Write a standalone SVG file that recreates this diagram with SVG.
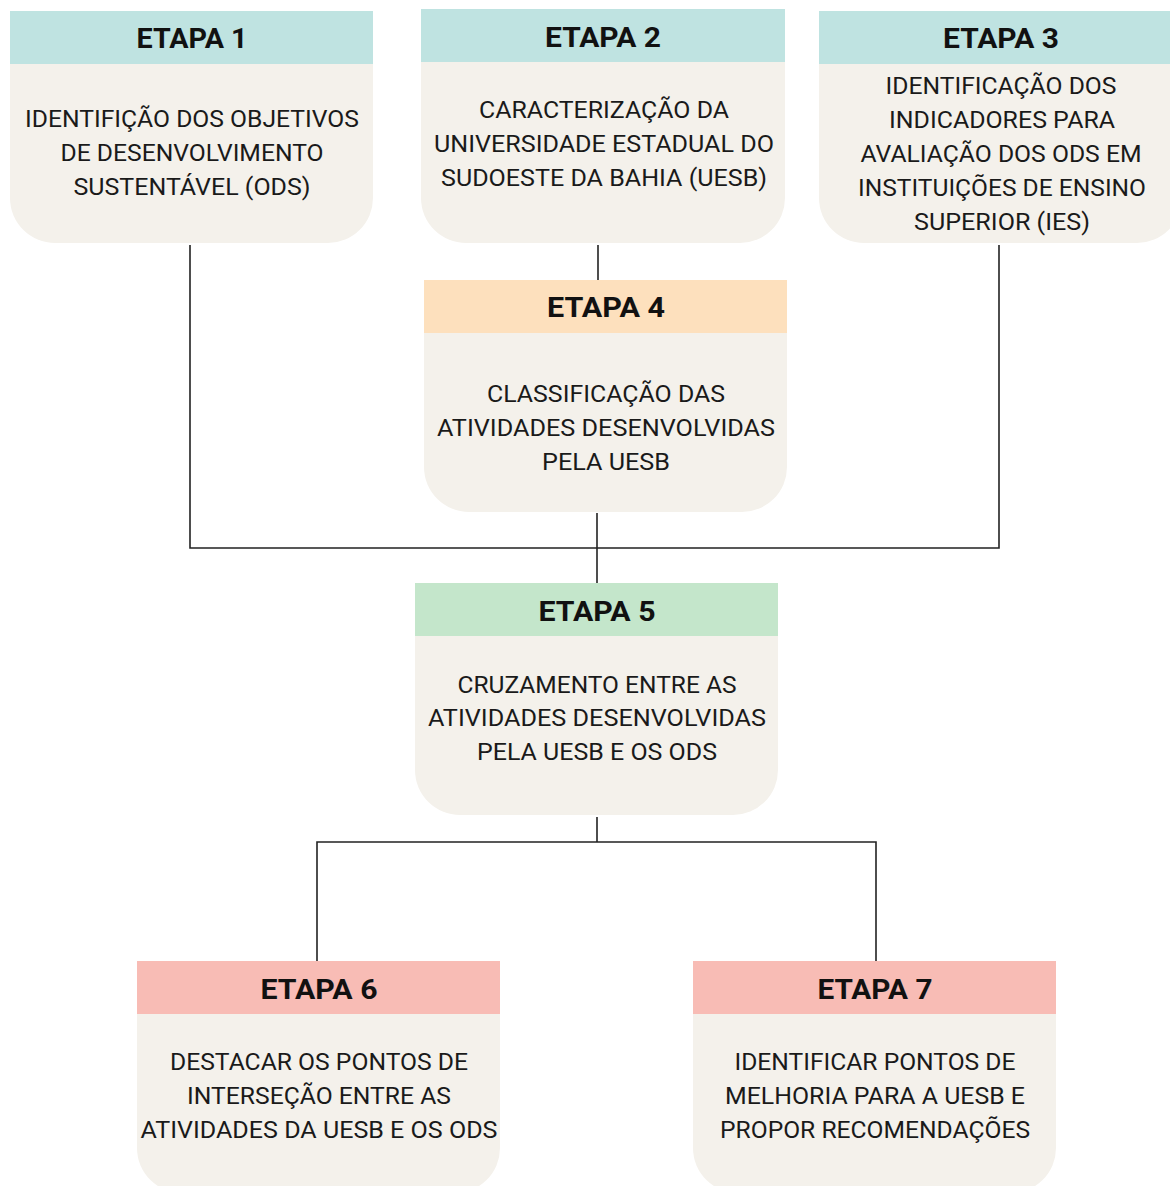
<svg xmlns="http://www.w3.org/2000/svg" width="1170" height="1186" viewBox="0 0 1170 1186">
<defs>
<style>
.body{fill:#f4f1eb}
.h-teal{fill:#bfe3e1}
.h-orange{fill:#fde0bd}
.h-green{fill:#c4e6cb}
.h-pink{fill:#f8bcb5}
.ht{font-family:Roboto,"Liberation Sans",sans-serif;font-weight:bold;font-size:28px;fill:#111;text-anchor:middle}
.bt{font-family:Roboto,"Liberation Sans",sans-serif;font-size:23px;fill:#1a1a1a;text-anchor:middle}
.conn{stroke:#222;stroke-width:1.6;fill:none}
</style>
</defs>
<rect width="1170" height="1186" fill="#ffffff"/>
<g id="connectors">
<path class="conn" d="M190 245 V548 H999 V245"/>
<path class="conn" d="M598 245 V280"/>
<path class="conn" d="M597 513 V583"/>
<path class="conn" d="M597 817 V842 M317 961 V842 H876 V961"/>
</g>
<g id="etapa1">
<path class="body" d="M10 64 H373 V198 A45 45 0 0 1 328 243 H55 A45 45 0 0 1 10 198 Z"/>
<rect class="h-teal" x="10" y="11" width="363" height="53"/>
<text class="ht" x="192" y="48" textLength="111" lengthAdjust="spacingAndGlyphs">ETAPA 1</text>
<text class="bt" x="192" y="127" textLength="334" lengthAdjust="spacingAndGlyphs">IDENTIFIÇÃO DOS OBJETIVOS</text>
<text class="bt" x="192" y="161" textLength="263" lengthAdjust="spacingAndGlyphs">DE DESENVOLVIMENTO</text>
<text class="bt" x="192" y="195" textLength="237" lengthAdjust="spacingAndGlyphs">SUSTENTÁVEL (ODS)</text>
</g>
<g id="etapa2">
<path class="body" d="M421 62 H785 V198 A45 45 0 0 1 740 243 H466 A45 45 0 0 1 421 198 Z"/>
<rect class="h-teal" x="421" y="9" width="364" height="53"/>
<text class="ht" x="603" y="47" textLength="116" lengthAdjust="spacingAndGlyphs">ETAPA 2</text>
<text class="bt" x="604" y="118" textLength="250" lengthAdjust="spacingAndGlyphs">CARACTERIZAÇÃO DA</text>
<text class="bt" x="604" y="152" textLength="340" lengthAdjust="spacingAndGlyphs">UNIVERSIDADE ESTADUAL DO</text>
<text class="bt" x="604" y="186" textLength="326" lengthAdjust="spacingAndGlyphs">SUDOESTE DA BAHIA (UESB)</text>
</g>
<g id="etapa3">
<path class="body" d="M819 64 H1182 V198 A45 45 0 0 1 1137 243 H864 A45 45 0 0 1 819 198 Z"/>
<rect class="h-teal" x="819" y="11" width="363" height="53"/>
<text class="ht" x="1001" y="48" textLength="116" lengthAdjust="spacingAndGlyphs">ETAPA 3</text>
<text class="bt" x="1001" y="94" textLength="231" lengthAdjust="spacingAndGlyphs">IDENTIFICAÇÃO DOS</text>
<text class="bt" x="1002" y="128" textLength="226" lengthAdjust="spacingAndGlyphs">INDICADORES PARA</text>
<text class="bt" x="1001" y="162" textLength="281" lengthAdjust="spacingAndGlyphs">AVALIAÇÃO DOS ODS EM</text>
<text class="bt" x="1002" y="196" textLength="288" lengthAdjust="spacingAndGlyphs">INSTITUIÇÕES DE ENSINO</text>
<text class="bt" x="1002" y="230" textLength="176" lengthAdjust="spacingAndGlyphs">SUPERIOR (IES)</text>
</g>
<g id="etapa4">
<path class="body" d="M424 333 H787 V467 A45 45 0 0 1 742 512 H469 A45 45 0 0 1 424 467 Z"/>
<rect class="h-orange" x="424" y="280" width="363" height="53"/>
<text class="ht" x="606" y="317" textLength="118" lengthAdjust="spacingAndGlyphs">ETAPA 4</text>
<text class="bt" x="606" y="402" textLength="238" lengthAdjust="spacingAndGlyphs">CLASSIFICAÇÃO DAS</text>
<text class="bt" x="606" y="436" textLength="338" lengthAdjust="spacingAndGlyphs">ATIVIDADES DESENVOLVIDAS</text>
<text class="bt" x="606" y="470" textLength="128" lengthAdjust="spacingAndGlyphs">PELA UESB</text>
</g>
<g id="etapa5">
<path class="body" d="M415 636 H778 V770 A45 45 0 0 1 733 815 H460 A45 45 0 0 1 415 770 Z"/>
<rect class="h-green" x="415" y="583" width="363" height="53"/>
<text class="ht" x="597" y="621" textLength="117" lengthAdjust="spacingAndGlyphs">ETAPA 5</text>
<text class="bt" x="597" y="693" textLength="279" lengthAdjust="spacingAndGlyphs">CRUZAMENTO ENTRE AS</text>
<text class="bt" x="597" y="726" textLength="338" lengthAdjust="spacingAndGlyphs">ATIVIDADES DESENVOLVIDAS</text>
<text class="bt" x="597" y="760" textLength="240" lengthAdjust="spacingAndGlyphs">PELA UESB E OS ODS</text>
</g>
<g id="etapa6">
<path class="body" d="M137 1014 H500 V1148 A45 45 0 0 1 455 1193 H182 A45 45 0 0 1 137 1148 Z"/>
<rect class="h-pink" x="137" y="961" width="363" height="53"/>
<text class="ht" x="319" y="999" textLength="117" lengthAdjust="spacingAndGlyphs">ETAPA 6</text>
<text class="bt" x="319" y="1070" textLength="298" lengthAdjust="spacingAndGlyphs">DESTACAR OS PONTOS DE</text>
<text class="bt" x="319" y="1104" textLength="264" lengthAdjust="spacingAndGlyphs">INTERSEÇÃO ENTRE AS</text>
<text class="bt" x="319" y="1138" textLength="357" lengthAdjust="spacingAndGlyphs">ATIVIDADES DA UESB E OS ODS</text>
</g>
<g id="etapa7">
<path class="body" d="M693 1014 H1056 V1148 A45 45 0 0 1 1011 1193 H738 A45 45 0 0 1 693 1148 Z"/>
<rect class="h-pink" x="693" y="961" width="363" height="53"/>
<text class="ht" x="875" y="999" textLength="115" lengthAdjust="spacingAndGlyphs">ETAPA 7</text>
<text class="bt" x="875" y="1070" textLength="281" lengthAdjust="spacingAndGlyphs">IDENTIFICAR PONTOS DE</text>
<text class="bt" x="875" y="1104" textLength="300" lengthAdjust="spacingAndGlyphs">MELHORIA PARA A UESB E</text>
<text class="bt" x="875" y="1138" textLength="310" lengthAdjust="spacingAndGlyphs">PROPOR RECOMENDAÇÕES</text>
</g>
</svg>
